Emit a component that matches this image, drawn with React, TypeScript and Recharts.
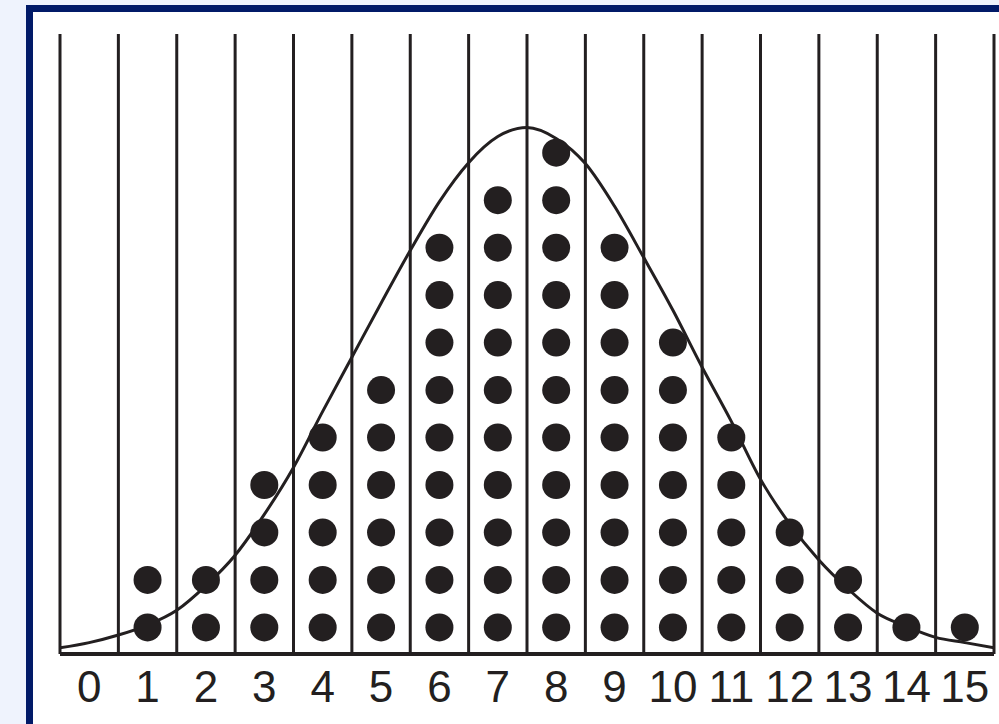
import React from 'react';
import { ComposedChart, Line, Scatter, XAxis, YAxis, ReferenceLine } from 'recharts';

// Number of observations at each score (one dot per observation)
const scores = [0, 1, 2, 3, 4, 5, 6, 7, 8, 9, 10, 11, 12, 13, 14, 15];
const counts = [0, 2, 2, 4, 5, 6, 9, 10, 11, 9, 7, 5, 3, 2, 1, 1];

// Column boundaries drawn as vertical rules
const boundaries = [
  -0.5, 0.5, 1.5, 2.5, 3.5, 4.5, 5.5, 6.5, 7.5, 8.5, 9.5, 10.5, 11.5, 12.5, 13.5, 14.5, 15.5,
];

// Fitted bell curve, sampled every half score
const curveX = [
  -0.5, 0, 0.5, 1, 1.5, 2, 2.5, 3, 3.5, 4, 4.5, 5, 5.5, 6, 6.5, 7, 7.5,
  8, 8.5, 9, 9.5, 10, 10.5, 11, 11.5, 12, 12.5, 13, 13.5, 14, 14.5, 15, 15.5,
];
const curveY = [
  0.07, 0.18, 0.34, 0.55, 0.86, 1.38, 2.02, 2.88, 3.87, 5.05, 6.19, 7.33, 8.44, 9.47, 10.29, 10.84, 11.03,
  10.8, 10.27, 9.37, 8.29, 7.18, 5.98, 4.84, 3.62, 2.68, 1.92, 1.31, 0.8, 0.52, 0.29, 0.18, 0.07,
];

const INK = '#231f20';
const NAVY = '#011a68';

const curveData = curveX.map((x, i) => ({ x, y: curveY[i] }));

// Stack the dots for each score: the k-th dot sits in the middle of its unit row
const dotData: { x: number; y: number }[] = [];
scores.forEach((s, i) => {
  for (let k = 0; k < counts[i]; k++) {
    dotData.push({ x: s, y: k + 0.5 });
  }
});

const Dot = (props: any) => {
  const { cx, cy } = props;
  if (cx == null || cy == null) return null;
  return <circle cx={cx} cy={cy} r={14} fill={INK} />;
};

export default function App() {
  return (
    <div
      style={{
        position: 'absolute',
        left: 0,
        top: 0,
        width: 999,
        height: 724,
        overflow: 'hidden',
        background: '#eff3fd',
      }}
    >
      <div
        style={{
          position: 'absolute',
          left: 26,
          top: 5,
          width: 1040,
          height: 800,
          border: `7px solid ${NAVY}`,
          background: '#ffffff',
        }}
      />
      <div style={{ position: 'absolute', left: 0, top: 0 }}>
        <ComposedChart
          width={999}
          height={724}
          margin={{ top: 34, right: 5, bottom: 30, left: 60 }}
        >
          <XAxis
            type="number"
            dataKey="x"
            domain={[-0.5, 15.5]}
            ticks={scores}
            interval={0}
            allowDataOverflow
            axisLine={{ stroke: INK, strokeWidth: 4 }}
            tickLine={false}
            tickSize={6}
            tickMargin={11}
            height={40}
            tick={{ fontSize: 44, fill: INK, fontFamily: 'Liberation Sans, Arial, sans-serif' }}
          />
          <YAxis type="number" dataKey="y" domain={[-0.06, 13]} allowDataOverflow hide />
          {boundaries.map((b) => (
            <ReferenceLine key={b} x={b} stroke={INK} strokeWidth={3} ifOverflow="extendDomain" />
          ))}
          <Scatter data={dotData} shape={<Dot />} isAnimationActive={false} />
          <Line
            data={curveData}
            dataKey="y"
            type="monotone"
            stroke={INK}
            strokeWidth={3}
            dot={false}
            activeDot={false}
            isAnimationActive={false}
          />
        </ComposedChart>
      </div>
    </div>
  );
}
